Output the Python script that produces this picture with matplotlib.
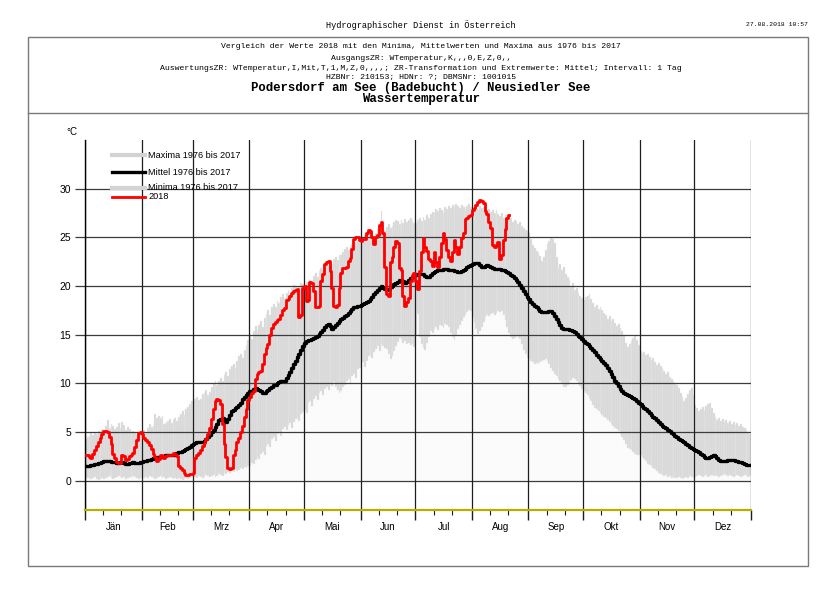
import numpy as np
import matplotlib
matplotlib.use("Agg")
import matplotlib.pyplot as plt
from matplotlib.lines import Line2D
from matplotlib.patches import Rectangle

months = ["Jän", "Feb", "Mrz", "Apr", "Mai", "Jun", "Jul", "Aug", "Sep", "Okt", "Nov", "Dez"]
month_days = [31, 28, 31, 30, 31, 30, 31, 31, 30, 31, 30, 31]
yticks = [0, 5, 10, 15, 20, 25, 30]

# Maxima 1976 bis 2017, one value per day
maxima = [
    4.3,4.5,4.6,4.9,4.7,5.0,4.8,5.1,5.0,5.3,5.2,5.6,6.2,5.4,5.8,5.6,5.3,5.5,5.9,5.4,6.0,5.7,5.2,5.5,5.3,4.9,5.1,5.0,4.7,4.9,4.8,
    5.0,5.2,4.9,5.4,5.8,5.5,5.6,6.9,6.5,6.7,6.4,6.7,5.8,5.9,6.1,6.3,5.9,6.2,6.5,6.1,6.6,6.9,7.2,6.8,7.4,7.6,7.9,8.2,
    8.0,8.4,8.6,8.3,8.4,8.9,9.0,9.3,8.8,9.1,9.6,10.0,10.3,9.8,10.2,10.6,10.3,10.9,11.2,10.8,11.5,11.8,12.0,11.6,12.3,12.8,13.0,12.6,13.4,13.9,14.5,
    15.0,14.6,15.4,15.9,15.5,16.0,16.4,15.8,16.7,17.1,17.5,17.0,17.8,18.2,17.9,18.5,18.3,18.9,19.2,18.8,19.3,19.6,19.1,19.8,20.1,20.0,19.5,19.9,20.3,20.2,
    20.0,20.4,20.2,20.6,20.5,21.0,21.3,20.9,21.5,21.9,21.6,22.0,22.4,22.1,22.5,22.3,22.8,23.0,22.7,23.2,23.2,23.5,23.8,24.0,23.7,24.1,24.3,24.0,24.5,24.6,24.7,
    24.6,24.9,25.2,24.8,25.3,25.4,25.6,25.1,25.5,25.9,26.3,27.7,26.0,25.7,26.1,26.4,26.0,26.2,26.6,26.8,26.7,26.4,26.8,26.5,26.9,26.6,26.8,27.0,26.7,26.5,
    26.5,26.8,27.0,26.7,27.1,26.8,27.3,27.0,27.4,27.6,27.5,27.9,27.7,28.0,27.8,27.5,28.1,27.9,28.2,28.0,28.3,28.1,28.4,28.2,28.0,28.3,28.1,27.9,28.2,28.4,28.1,
    28.0,28.3,28.1,27.9,28.2,28.0,28.1,28.1,27.8,27.9,27.6,27.8,27.5,27.8,27.4,27.2,27.5,27.0,27.3,27.1,26.9,27.0,26.6,26.8,26.7,26.4,26.6,26.2,26.0,25.8,25.7,
    25.5,24.8,24.2,23.9,23.6,23.4,23.1,22.6,23.0,23.7,24.3,24.6,24.9,24.8,24.4,23.0,21.9,22.3,21.6,22.0,21.2,20.9,20.6,19.9,20.3,19.6,19.8,19.3,19.0,18.8,
    18.6,18.9,19.0,19.2,18.7,18.3,17.8,18.1,17.6,17.8,17.5,17.2,17.0,16.6,16.9,16.4,16.6,16.2,15.9,16.1,15.7,15.4,15.0,14.2,13.7,14.0,14.4,14.7,14.9,14.5,13.9,
    13.3,13.0,13.2,12.9,13.0,12.7,12.4,12.6,12.2,11.9,12.1,11.8,11.6,11.3,11.0,11.2,10.7,10.5,10.2,10.0,9.8,9.5,9.0,8.6,8.2,8.5,8.9,9.3,9.5,8.8,
    7.8,7.5,7.2,7.4,7.6,7.3,7.7,7.9,8.0,7.5,7.0,6.6,6.2,6.4,6.1,6.3,6.0,6.2,5.9,6.1,5.8,6.0,5.7,5.9,5.6,5.8,5.5,5.4,5.2,5.0,4.8,
]

# Mittel 1976 bis 2017
mittel = [
    1.5,1.5,1.5,1.6,1.6,1.7,1.7,1.8,1.8,1.9,2.0,2.0,2.0,2.0,1.9,1.9,1.9,1.8,1.8,1.9,1.9,1.8,1.7,1.7,1.8,1.8,1.9,1.8,1.8,1.8,1.9,
    1.9,2.0,2.0,2.1,2.1,2.2,2.3,2.3,2.4,2.4,2.4,2.5,2.5,2.6,2.6,2.6,2.7,2.7,2.8,2.9,3.0,3.0,3.1,3.2,3.3,3.4,3.5,3.7,
    3.8,3.9,4.0,4.0,4.0,4.0,4.1,4.3,4.5,4.7,5.0,5.2,5.5,5.8,6.2,6.3,6.4,6.2,6.0,6.3,6.8,7.2,7.3,7.5,7.6,7.8,8.0,8.4,8.6,8.8,9.0,
    9.2,9.2,9.4,9.5,9.4,9.3,9.2,9.0,9.0,9.2,9.3,9.5,9.6,9.8,9.8,10.0,10.1,10.2,10.3,10.3,10.6,10.9,11.2,11.6,12.0,12.3,12.7,13.0,13.4,13.8,
    14.2,14.4,14.5,14.5,14.6,14.7,14.8,14.9,15.1,15.3,15.5,15.8,16.0,16.1,15.9,15.6,15.8,16.0,16.2,16.4,16.6,16.7,16.9,17.0,17.2,17.4,17.6,17.9,17.9,18.0,18.0,
    18.1,18.2,18.3,18.4,18.5,18.7,18.9,19.2,19.4,19.6,19.8,20.0,19.9,19.7,19.6,19.7,19.9,20.0,20.2,20.3,20.4,20.6,20.6,20.5,20.3,20.4,20.6,20.8,20.9,21.0,
    21.1,21.2,21.2,21.2,21.2,21.0,20.9,20.9,21.1,21.3,21.4,21.5,21.6,21.7,21.7,21.8,21.8,21.8,21.7,21.6,21.6,21.5,21.5,21.4,21.4,21.5,21.6,21.8,22.0,22.1,22.2,
    22.3,22.4,22.4,22.4,22.2,22.0,22.0,22.1,22.2,22.1,22.0,21.9,21.8,21.8,21.8,21.8,21.7,21.6,21.5,21.4,21.3,21.1,21.0,20.8,20.6,20.4,20.1,19.8,19.5,19.2,18.9,
    18.7,18.4,18.2,18.0,17.8,17.6,17.4,17.3,17.3,17.3,17.3,17.4,17.4,17.2,16.9,16.6,16.3,16.0,15.7,15.6,15.6,15.6,15.5,15.5,15.4,15.3,15.1,14.9,14.8,14.6,
    14.4,14.2,14.0,13.8,13.6,13.4,13.2,12.9,12.7,12.5,12.3,12.1,11.9,11.6,11.3,11.0,10.7,10.3,10.0,9.7,9.4,9.2,9.0,8.9,8.8,8.7,8.6,8.5,8.4,8.2,8.0,
    7.9,7.7,7.5,7.4,7.2,7.0,6.8,6.6,6.4,6.2,6.0,5.8,5.6,5.5,5.4,5.2,5.1,4.9,4.8,4.6,4.5,4.3,4.2,4.1,4.0,3.8,3.7,3.5,3.4,3.3,
    3.2,3.1,3.0,2.8,2.6,2.4,2.3,2.3,2.4,2.5,2.6,2.5,2.3,2.1,2.0,2.0,2.0,2.0,2.1,2.1,2.1,2.1,2.0,2.0,1.9,1.9,1.8,1.7,1.6,1.6,1.6,
]

# Minima 1976 bis 2017
minima = [
    0.4,0.3,0.3,0.2,0.3,0.4,0.2,0.1,0.2,0.3,0.2,0.3,0.4,0.5,0.3,0.2,0.3,0.4,0.5,0.4,0.3,0.4,0.2,0.3,0.4,0.3,0.5,0.4,0.3,0.2,0.3,
    0.2,0.3,0.4,0.3,0.5,0.4,0.3,0.2,0.3,0.4,0.5,0.3,0.4,0.2,0.3,0.4,0.3,0.2,0.3,0.2,0.3,0.2,0.1,0.2,0.3,0.2,0.3,0.4,
    0.3,0.4,0.3,0.5,0.4,0.3,0.4,0.6,0.5,0.4,0.5,0.6,0.4,0.5,0.7,0.6,0.5,0.8,0.7,0.9,0.8,1.0,0.9,1.2,1.0,1.1,1.3,1.2,1.4,1.3,1.5,
    1.5,1.8,1.7,2.1,2.4,2.2,2.8,3.0,2.7,3.6,3.8,3.5,4.3,4.5,4.1,4.8,5.0,4.6,5.3,5.5,5.2,5.7,5.9,5.4,6.0,6.3,6.5,6.1,6.9,7.1,
    7.3,7.0,8.0,8.2,7.7,8.4,8.7,8.3,9.0,9.2,8.8,9.4,9.6,9.3,10.0,9.7,10.1,9.6,9.3,9.0,9.2,9.6,9.8,10.2,10.5,10.0,10.8,11.0,10.6,11.5,11.6,
    11.8,12.2,11.7,12.3,12.8,13.0,12.6,13.2,13.5,13.8,13.3,14.0,13.8,13.6,13.5,13.0,12.5,12.8,13.3,13.8,14.3,14.7,14.5,14.2,14.4,14.0,14.2,13.9,14.1,13.7,
    15.0,17.1,14.8,14.0,13.6,13.4,14.2,14.8,15.4,15.2,15.6,15.8,15.5,16.0,15.9,15.7,16.1,16.0,15.8,15.2,14.8,14.5,15.0,15.6,16.0,16.4,16.8,17.0,17.3,17.5,17.4,
    16.8,16.2,15.6,15.1,15.4,15.8,16.3,16.8,17.0,16.9,17.1,17.2,17.0,17.2,17.4,17.3,17.4,17.0,16.5,15.8,15.2,14.8,14.6,14.7,14.9,14.8,14.6,14.0,13.4,13.0,12.6,
    12.5,12.3,12.2,12.0,12.1,12.0,12.2,12.3,12.4,12.5,12.3,12.0,11.6,11.3,11.0,10.8,10.5,10.3,10.0,9.6,9.6,9.8,10.1,10.4,10.6,10.5,10.2,9.9,9.7,9.4,
    9.2,9.0,8.8,8.5,8.2,7.8,7.5,7.4,7.2,7.0,6.8,6.6,6.4,6.2,6.0,5.8,5.6,5.4,5.3,5.1,4.8,4.5,4.2,3.8,3.4,3.3,3.2,3.0,2.8,2.7,2.6,
    2.6,2.4,2.2,2.0,1.7,1.6,1.5,1.3,1.2,1.0,0.8,0.7,0.6,0.5,0.6,0.4,0.5,0.3,0.4,0.3,0.3,0.4,0.3,0.2,0.3,0.4,0.3,0.5,0.4,0.3,
    0.4,0.5,0.6,0.5,0.4,0.5,0.6,0.4,0.5,0.6,0.5,0.6,0.5,0.4,0.5,0.6,0.7,0.6,0.5,0.6,0.5,0.4,0.5,0.6,0.5,0.4,0.5,0.6,0.5,0.4,0.5,
]

# Werte 2018 (1. Jan bis 21. Aug)
werte_2018 = [
    2.7,2.6,2.4,2.3,2.8,3.2,3.6,4.0,4.4,4.8,5.1,5.1,5.0,4.5,3.8,2.8,2.3,1.9,1.8,1.8,2.6,2.5,2.1,2.2,2.5,2.7,2.9,3.5,4.2,4.9,5.0,
    4.8,4.4,4.2,4.0,3.7,3.3,2.8,2.4,2.0,2.2,2.6,2.5,2.3,2.5,2.7,2.6,2.7,2.9,2.8,2.5,1.5,1.3,1.1,0.8,0.6,0.6,0.7,0.7,
    0.8,2.3,2.6,2.9,3.2,3.6,3.9,4.3,4.8,5.4,6.3,7.4,8.2,8.4,8.3,7.9,5.8,3.8,2.4,1.3,1.2,1.3,2.6,3.2,4.0,4.4,5.0,5.6,6.6,7.4,8.3,
    8.6,9.0,9.2,10.5,11.0,11.2,11.3,12.0,13.0,13.6,14.0,15.0,15.7,16.1,16.3,16.5,16.6,17.0,17.5,17.7,18.6,18.7,19.0,19.3,19.5,19.6,19.7,16.8,17.0,19.8,
    20.0,18.5,18.6,20.4,20.3,19.5,17.8,17.8,18.0,20.5,21.2,22.3,22.5,22.6,21.5,19.8,18.0,17.9,18.1,19.8,21.3,21.9,21.9,22.0,22.6,22.9,23.8,24.8,25.0,25.0,24.7,
    24.6,24.8,24.8,25.5,25.8,25.7,25.0,24.3,25.0,25.2,26.3,26.6,25.5,22.0,19.2,19.0,22.5,23.0,24.0,24.6,24.4,21.9,21.6,19.0,18.0,18.4,18.8,20.5,21.1,21.3,
    20.5,19.7,21.5,23.5,24.9,24.0,23.6,22.8,22.6,22.1,23.5,22.5,22.0,23.0,24.4,25.4,24.8,23.7,23.0,22.6,23.5,24.7,24.0,23.3,24.0,24.9,25.5,26.9,27.0,27.2,27.3,
    27.8,28.0,28.3,28.6,28.8,28.7,28.5,27.7,27.4,26.6,26.0,24.2,24.0,24.2,24.5,22.8,23.2,24.7,25.9,27.0,27.3,
]

W, H = 836, 595
mono = ["Liberation Mono", "DejaVu Sans Mono"]
sans = ["Liberation Sans", "DejaVu Sans"]

fig = plt.figure(figsize=(W / 100, H / 100), dpi=100)

def fx(px):
    return px / W

def fy(py):
    return 1 - py / H

# header
fig.text(fx(421), fy(25), "Hydrographischer Dienst in Österreich", family=mono, fontsize=6.2,
         ha="center", va="center")
fig.text(fx(808), fy(25), "27.08.2018 10:57", family=mono, fontsize=4.6, ha="right", va="center")

fig.add_artist(Rectangle((fx(28), fy(566)), fx(808) - fx(28), fy(37) - fy(566),
                         transform=fig.transFigure, fill=False, edgecolor="#7a7a7a", lw=1))
fig.add_artist(Line2D([fx(28), fx(808)], [fy(113), fy(113)], transform=fig.transFigure,
                      color="#7a7a7a", lw=1))

head_lines = [
    "Vergleich der Werte 2018 mit den Minima, Mittelwerten und Maxima aus 1976 bis 2017",
    "AusgangsZR: WTemperatur,K,,,0,E,Z,0,,",
    "AuswertungsZR: WTemperatur,I,Mit,T,1,M,Z,0,,,,; ZR-Transformation und Extremwerte: Mittel; Intervall: 1 Tag",
    "HZBNr: 210153; HDNr: ?; DBMSNr: 1001015",
]
for txt, py in zip(head_lines, [47, 58, 68, 77]):
    fig.text(fx(421), fy(py), txt, family=mono, fontsize=5.9, ha="center", va="center")
fig.text(fx(421), fy(87.5), "Podersdorf am See (Badebucht) / Neusiedler See", family=mono,
         fontsize=8.9, weight="bold", ha="center", va="center")
fig.text(fx(421), fy(99), "Wassertemperatur", family=mono, fontsize=8.9, weight="bold",
         ha="center", va="center")

# plot area
ax = fig.add_axes([fx(85), fy(510), fx(751) - fx(85), fy(140) - fy(510)])
ax.set_xlim(0, 365)
ax.set_ylim(-3, 35)

mx = np.array(maxima)
mn = np.array(minima)
n = min(len(mx), len(mn))
days = np.arange(n)
ax.bar(days, mn[:n], bottom=0, width=1.0, align="edge", color="#f9f9f9",
       edgecolor="white", linewidth=0.3, zorder=1)
ax.bar(days, mx[:n] - mn[:n], bottom=mn[:n], width=1.0, align="edge", color="#d5d5d5",
       edgecolor="#ececec", linewidth=0.3, zorder=1)

starts = np.concatenate([[0], np.cumsum(month_days)])
for y in yticks:
    ax.axhline(y, color="#3c3c3c", lw=0.9, zorder=2)
for b in starts:
    ax.axvline(b, color="#1e1e1e", lw=0.9, zorder=2)

ax.plot(np.arange(len(mittel)) + 0.5, mittel, color="black", lw=2.4,
        drawstyle="steps-mid", zorder=4)
ax.plot(np.arange(len(werte_2018)) + 0.5, werte_2018, color="#ff0000", lw=2.0,
        drawstyle="steps-mid", zorder=5)

for s in ["top", "right"]:
    ax.spines[s].set_visible(False)
ax.spines["left"].set_color("black")
ax.spines["left"].set_linewidth(1.0)
ax.spines["bottom"].set_color("#b4b000")
ax.spines["bottom"].set_linewidth(1.6)
ax.spines["bottom"].set_zorder(6)

ax.set_yticks(yticks)
ax.set_yticklabels([str(v) for v in yticks], family=sans, fontsize=7.5)
ax.tick_params(axis="y", direction="out", length=7, width=0.9, color="#3c3c3c", pad=3)

minor = [s + k for s in starts[:-1] for k in (10, 20)]
ax.set_xticks(starts)
ax.set_xticklabels([])
ax.set_xticks(minor, minor=True)
ax.tick_params(axis="x", which="major", direction="out", length=7, width=1.0, color="#1e1e1e")
ax.tick_params(axis="x", which="minor", direction="out", length=3.5, width=0.8, color="#1e1e1e")

for name, s, d in zip(months, starts[:-1], month_days):
    ax.text(s + d / 2, -0.046, name, transform=ax.get_xaxis_transform(), family=sans,
            fontsize=7, ha="center", va="center")

fig.text(fx(72), fy(132), "°C", family=sans, fontsize=7, ha="center", va="center")

# legend
legend_items = [
    ("Maxima 1976 bis 2017", "#d3d3d3", 3.0, 155),
    ("Mittel 1976 bis 2017", "black", 2.4, 172),
    ("Minima 1976 bis 2017", "#d3d3d3", 3.0, 188),
    ("2018", "#ff0000", 2.0, 197),
]
for label, col, lw, py in legend_items:
    fig.add_artist(Line2D([fx(112), fx(145)], [fy(py), fy(py)], transform=fig.transFigure,
                          color=col, lw=lw, zorder=7))
    fig.text(fx(148), fy(py), label, family=sans, fontsize=6.6, ha="left", va="center", zorder=8)

fig.savefig("out.png", dpi=100)
